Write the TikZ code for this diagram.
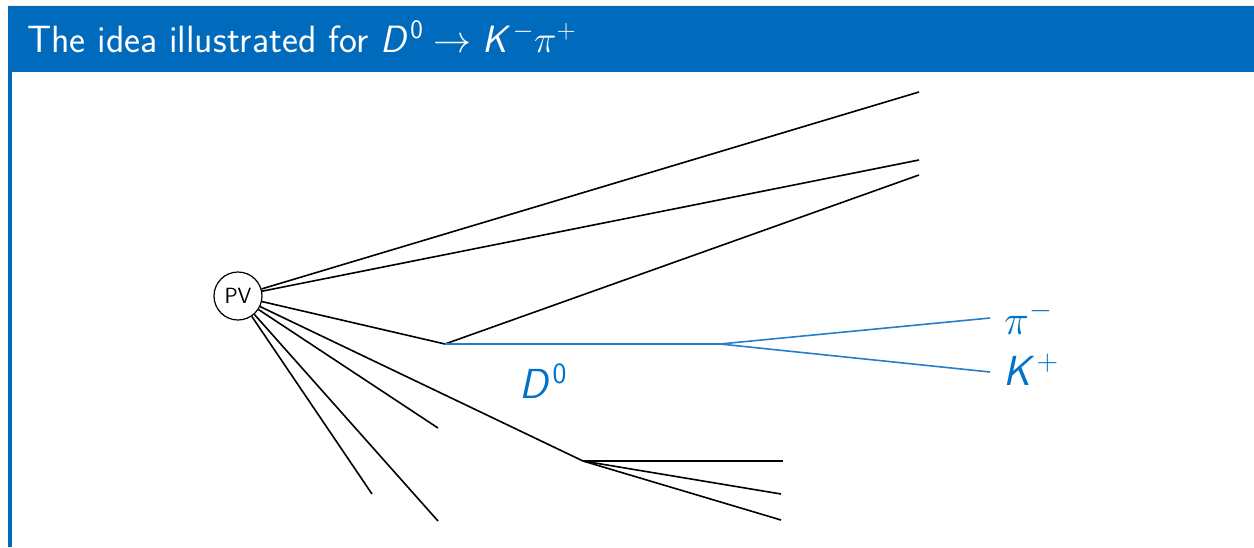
\RequirePackage{fix-cm}
\documentclass[tikz,border=0pt]{standalone}
\usepackage{amsmath}
\definecolor{hdrblue}{RGB}{0,106,188}
\definecolor{trkblue}{RGB}{40,125,200}
\definecolor{lblblue}{RGB}{0,115,200}
\newcommand\sfi[1]{\textit{#1\/}\mkern1mu}
\tikzset{
  trk/.style={line width=1.6pt, black},
  dtrk/.style={line width=1.6pt, trkblue},
  lbl/.style={text=lblblue, font=\fontsize{42}{46}\selectfont\sffamily, inner sep=0pt},
}
\begin{document}
\begin{tikzpicture}[x=1pt,y=-1pt]
\useasboundingbox (0,0) rectangle (1254,547);
\fill[white] (0,0) rectangle (1254,547);
% frame
\fill[gray!15] (8,4.5) rectangle (1254,6.5);
\fill[hdrblue] (8,6) rectangle (1254,71.5);
\fill[hdrblue] (8,71) rectangle (11.5,547);
\node[anchor=base west, text=white, inner sep=0pt, font=\fontsize{38}{42}\selectfont\sffamily] (title) at (27,52)
  {The idea illustrated for $\sfi{D}^{\textsf{0}}\to \sfi{K}^-\pi^+$};
% vertices
\node[draw, circle, line width=1.2pt, minimum size=48pt, inner sep=0pt, font=\fontsize{22}{24}\selectfont\sffamily] (pv) at (238,296) {PV};
\coordinate (dv) at (445,344);
\coordinate (ddec) at (720,344);
\coordinate (sv) at (583,461);
% endpoints
\coordinate (e1) at (919,92);
\coordinate (e2) at (919,160);
\coordinate (e3) at (919,175);
\coordinate (e4) at (438,428);
\coordinate (e5) at (438,521);
\coordinate (e6) at (372,494);
\coordinate (s1) at (783,461);
\coordinate (s2) at (781,494);
\coordinate (s3) at (781,520);
\coordinate (pi) at (990,318);
\coordinate (ka) at (990,372);
% tracks
\draw[trk] (pv) -- (e1);
\draw[trk] (pv) -- (e2);
\draw[trk] (pv) -- (dv) -- (e3);
\draw[trk] (pv) -- (e4);
\draw[trk] (pv) -- (e5);
\draw[trk] (pv) -- (e6);
\draw[trk] (pv) -- (sv);
\draw[trk] (sv) -- (s1);
\draw[trk] (sv) -- (s2);
\draw[trk] (sv) -- (s3);
\draw[dtrk] (dv) -- (ddec);
\draw[dtrk] (ddec) -- (pi);
\draw[dtrk] (ddec) -- (ka);
% labels
\node[lbl, anchor=center] (dlbl) at (543,381) {$\sfi{D}^{\textsf{0}}$};
\node[lbl, anchor=west] (pilbl) at (1004,318) {$\pi^-$};
\node[lbl, anchor=west] (klbl) at (1003,370) {$\sfi{K}^+$};
\end{tikzpicture}
\end{document}
